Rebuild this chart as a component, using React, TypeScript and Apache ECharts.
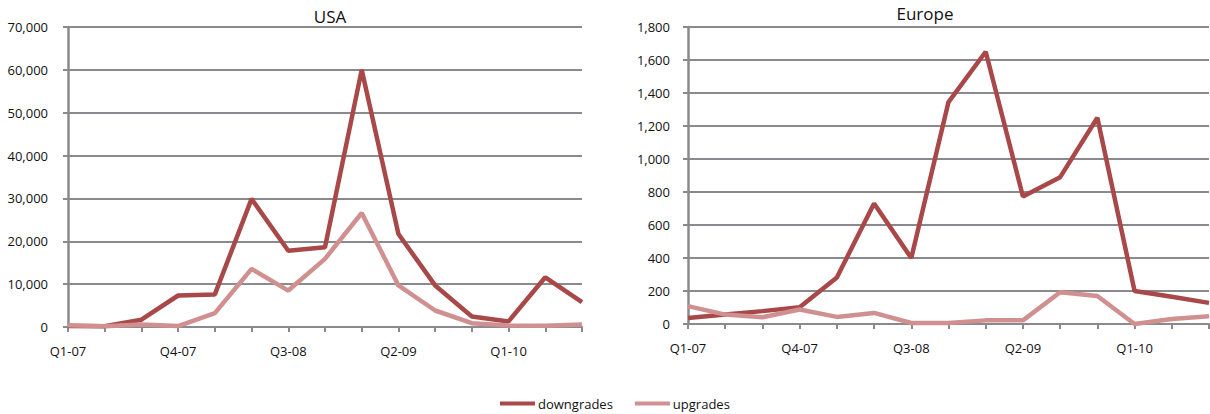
import React, { useEffect, useRef } from "react";
import * as echarts from "echarts";

const categories = [
  "Q1-07", "Q2-07", "Q3-07", "Q4-07",
  "Q1-08", "Q2-08", "Q3-08", "Q4-08",
  "Q1-09", "Q2-09", "Q3-09", "Q4-09",
  "Q1-10", "Q2-10", "Q3-10",
];

const usaDowngrades = [230, 200, 1700, 7350, 7600, 29900, 17800, 18600, 60000, 21700, 9700, 2450, 1300, 11600, 5800];
const usaUpgrades = [400, 150, 600, 230, 3250, 13550, 8500, 15900, 26600, 9700, 3850, 900, 350, 300, 600];

const euDowngrades = [37, 57, 78, 102, 282, 730, 400, 1345, 1650, 773, 890, 1250, 200, 165, 128];
const euUpgrades = [108, 57, 41, 88, 43, 67, 6, 6, 22, 22, 192, 170, 0, 30, 47];

const DOWN_COLOR = "#A84848";
const UP_COLOR = "#D09090";
const GRID_COLOR = "#8A8A8E";
const FONT = "Open Sans";

export default function App() {
  const ref = useRef<HTMLDivElement>(null);

  useEffect(() => {
    if (!ref.current) return;
    const chart = echarts.init(ref.current, null, { renderer: "svg" });

    const xAxisBase = (gridIndex: number) => ({
      type: "category" as const,
      gridIndex,
      data: categories,
      boundaryGap: false,
      axisLine: { show: true, lineStyle: { color: GRID_COLOR, width: 2 } },
      axisTick: { show: true, length: 5, lineStyle: { color: GRID_COLOR, width: 2 }, interval: 0 },
      axisLabel: {
        interval: 2,
        color: "#111",
        fontFamily: FONT,
        fontSize: 13,
        margin: 17,
      },
      splitLine: { show: false },
    });

    const yAxisBase = (gridIndex: number, max: number, interval: number, margin: number) => ({
      type: "value" as const,
      gridIndex,
      min: 0,
      max,
      interval,
      axisLine: { show: true, lineStyle: { color: GRID_COLOR, width: 2.5 } },
      axisTick: { show: true, length: 5, lineStyle: { color: GRID_COLOR, width: 2 } },
      axisLabel: {
        color: "#111",
        fontFamily: FONT,
        fontSize: 13,
        margin,
        formatter: (v: number) => v.toLocaleString("en-US"),
      },
      splitLine: { show: true, lineStyle: { color: GRID_COLOR, width: 2 } },
    });

    const lineSeries = (name: string, data: number[], color: string, idx: number) => ({
      name,
      type: "line" as const,
      data,
      xAxisIndex: idx,
      yAxisIndex: idx,
      symbol: "none",
      lineStyle: { color, width: 4.5 },
      itemStyle: { color },
    });

    chart.setOption({
      animation: false,
      textStyle: { fontFamily: FONT },
      title: [
        {
          text: "USA",
          left: 325,
          top: 3,
          textAlign: "center",
          textStyle: { fontFamily: FONT, fontSize: 17, fontWeight: "normal", color: "#111" },
        },
        {
          text: "Europe",
          left: 920,
          top: 0,
          textAlign: "center",
          textStyle: { fontFamily: FONT, fontSize: 17, fontWeight: "normal", color: "#111" },
        },
      ],
      legend: {
        top: 392,
        left: 495,
        itemWidth: 35,
        itemHeight: 4,
        itemGap: 22,
        icon: "rect",
        textStyle: { fontFamily: FONT, fontSize: 13, color: "#111", padding: [0, 0, 0, -2] },
        data: ["downgrades", "upgrades"],
      },
      grid: [
        { left: 68, right: 628, top: 27, bottom: 87 },
        { left: 688, right: 1, top: 27, bottom: 90 },
      ],
      xAxis: [xAxisBase(0), xAxisBase(1)],
      yAxis: [yAxisBase(0, 70000, 10000, 20), yAxisBase(1, 1800, 200, 18)],
      series: [
        lineSeries("downgrades", usaDowngrades, DOWN_COLOR, 0),
        lineSeries("upgrades", usaUpgrades, UP_COLOR, 0),
        lineSeries("downgrades", euDowngrades, DOWN_COLOR, 1),
        lineSeries("upgrades", euUpgrades, UP_COLOR, 1),
      ],
    });

    return () => chart.dispose();
  }, []);

  return (
    <div
      ref={ref}
      style={{ position: "fixed", left: 0, top: 0, width: 1210, height: 414, background: "#fff" }}
    />
  );
}
